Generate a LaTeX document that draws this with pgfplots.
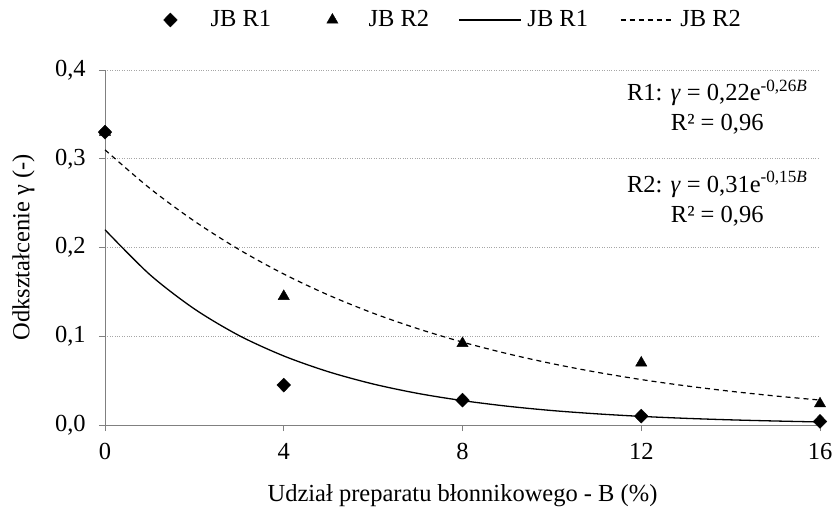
\documentclass[border=0pt]{standalone}
\usepackage{fontspec}
\setmainfont{Liberation Serif}
\usepackage{pgfplots}
\pgfplotsset{compat=1.18}
\pgfplotsset{
  legA/.style={legend image code/.code={\path (-7pt,0pt) (38pt,0pt);\draw[##1] plot coordinates {(0pt,0pt)};}},
  legB/.style={legend image code/.code={\path (-59pt,0pt) (34pt,0pt);\draw[##1] plot coordinates {(0pt,0pt)};}},
  legC/.style={legend image code/.code={\path (-27pt,0pt) (66pt,0pt);\draw[##1](0pt,0pt)--(62pt,0pt);}},
  legD/.style={legend image code/.code={\path (-30pt,0pt) (57pt,0pt);\draw[##1](0pt,0pt)--(52pt,0pt);}},
}
\begin{document}
\fontsize{24.5}{29}\selectfont
\begin{tikzpicture}
\begin{axis}[
  scale only axis,
  width=715pt, height=355pt,
  xmin=0, xmax=16, ymin=0, ymax=0.4,
  axis x line*=bottom, axis y line*=left,
  axis line style={gray, line width=0.8pt},
  xtick={0,4,8,12,16},
  ytick={0,0.1,0.2,0.3,0.4},
  tick align=outside,
  major tick length=6pt,
  tick style={gray, line width=0.8pt},
  ymajorgrids,
  grid style={gray!70, dotted, line width=0.7pt},
  /pgf/number format/assume math mode=true,
  yticklabel style={xshift=-5pt, /pgf/number format/.cd, fixed, fixed zerofill, precision=1, use comma},
  xticklabel style={yshift=-4pt},
  tick label style={font=\fontsize{24.5}{29}\selectfont},
  label style={font=\fontsize{24.5}{29}\selectfont},
  xtick pos=bottom, ytick pos=left,
  xlabel={Udział preparatu błonnikowego - B (\%)},
  ylabel={Odkształcenie γ (-)},
  xlabel style={yshift=-8pt},
  ylabel style={yshift=4pt},
  clip=false,
  legend columns=4,
  legend style={draw=none, fill=none, at={(0,1)}, anchor=west, xshift=58pt, yshift=50pt,
    inner sep=0pt, nodes={inner xsep=2pt, inner ysep=2pt},
    font=\fontsize{24.5}{29}\selectfont,
    /tikz/every even column/.append style={column sep=0pt}},
]
\addplot[only marks, mark=diamond*, mark size=7pt, mark options={xscale=1.3}, black, legA] coordinates {
 (0,0.33) (4,0.045) (8,0.028) (12,0.010) (16,0.004)};
\addlegendentry{JB R1}
\addplot[only marks, mark=triangle*, mark size=6.5pt, black, legB] coordinates {
 (0,0.33) (4,0.145) (8,0.092) (12,0.070) (16,0.024)};
\addlegendentry{JB R2}
\addplot[black, line width=1.3pt, smooth, no marks, legC] coordinates {
 (0,0.2200) (1,0.1696) (2,0.1308) (3,0.1008) (4,0.0778) (5,0.0600) (6,0.0462)
 (7,0.0356) (8,0.0275) (9,0.0212) (10,0.0163) (11,0.0126) (12,0.0097)
 (13,0.0075) (14,0.0058) (15,0.0045) (16,0.0034)};
\addlegendentry{JB R1}
\addplot[black, line width=1.2pt, dash pattern=on 5pt off 4pt, smooth, no marks, legD] coordinates {
 (0,0.3100) (1,0.2668) (2,0.2297) (3,0.1977) (4,0.1701) (5,0.1464) (6,0.1260)
 (7,0.1085) (8,0.0934) (9,0.0804) (10,0.0692) (11,0.0595) (12,0.0512)
 (13,0.0441) (14,0.0380) (15,0.0327) (16,0.0281)};
\addlegendentry{JB R2}
\node[align=center, font=\fontsize{24.5}{30}\selectfont] at (axis cs:13.7,0.358)
  {R1: \textit{γ} = 0,22e\textsuperscript{-0,26\textit{B}}\\R² = 0,96};
\node[align=center, font=\fontsize{24.5}{30}\selectfont] at (axis cs:13.7,0.255)
  {R2: \textit{γ} = 0,31e\textsuperscript{-0,15\textit{B}}\\R² = 0,96};
\coordinate (O) at (rel axis cs:0,0);
\coordinate (T) at (rel axis cs:1,1);
\end{axis}
\pgfresetboundingbox
\useasboundingbox ([xshift=-105pt,yshift=-83pt]O) rectangle ([xshift=14pt,yshift=70pt]T);
\end{tikzpicture}
\end{document}
